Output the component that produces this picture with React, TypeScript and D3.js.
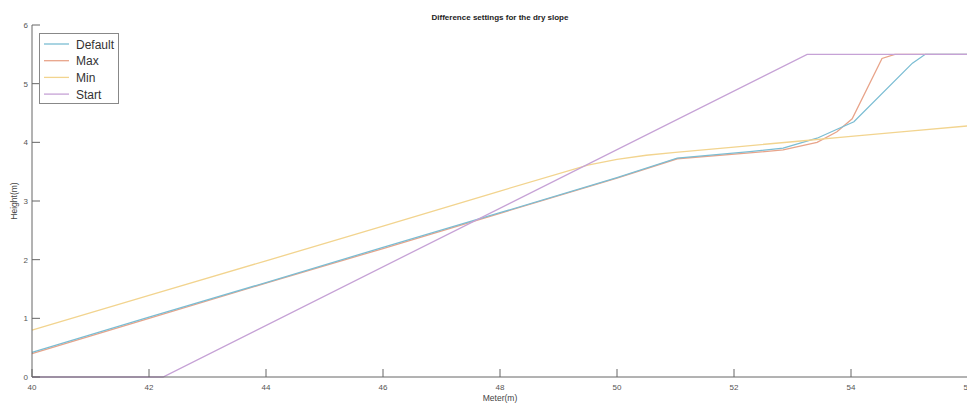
import React from "react";
import * as d3 from "d3";

const seriesNames = ["Default", "Max", "Min", "Start"];
const seriesColors = ["#7bbdd3", "#e8a48a", "#f2d48f", "#c6a2d6"];

const defaultX = [40, 42, 44, 46, 48, 50, 51.03, 52.27, 52.84, 53.42, 53.8, 54.05, 55.05, 55.27, 56];
const defaultY = [0.42, 1.02, 1.61, 2.21, 2.8, 3.4, 3.73, 3.84, 3.9, 4.07, 4.24, 4.35, 5.35, 5.5, 5.5];

const maxX = [40, 42, 44, 46, 48, 50, 51.03, 52.27, 52.84, 53.42, 53.76, 54.02, 54.53, 54.75, 56];
const maxY = [0.4, 1.0, 1.6, 2.19, 2.79, 3.39, 3.72, 3.82, 3.87, 4.0, 4.18, 4.4, 5.43, 5.5, 5.5];

const minX = [40, 42, 44, 46, 48, 49.5, 50, 50.5, 51, 52, 53, 54, 55, 56];
const minY = [0.8, 1.39, 1.98, 2.57, 3.17, 3.61, 3.71, 3.78, 3.83, 3.92, 4.01, 4.1, 4.19, 4.28];

const startX = [40, 42.24, 53.25, 56];
const startY = [0, 0, 5.5, 5.5];

const xTicks = [40, 42, 44, 46, 48, 50, 52, 54, 56];
const yTicks = [0, 1, 2, 3, 4, 5, 6];

const W = 967;
const H = 403;

export default function App() {
  const x = d3.scaleLinear().domain([40, 56]).range([32, 968]);
  const y = d3.scaleLinear().domain([0, 6]).range([377, 25]);

  const series = [
    { name: seriesNames[0], xs: defaultX, ys: defaultY, color: seriesColors[0] },
    { name: seriesNames[1], xs: maxX, ys: maxY, color: seriesColors[1] },
    { name: seriesNames[2], xs: minX, ys: minY, color: seriesColors[2] },
    { name: seriesNames[3], xs: startX, ys: startY, color: seriesColors[3] },
  ];

  const line = d3
    .line<[number, number]>()
    .x((d) => x(d[0]))
    .y((d) => y(d[1]));

  const axisColor = "#666";
  const font = "Liberation Sans, Arial, sans-serif";

  return (
    <svg
      width={W}
      height={H}
      style={{ position: "fixed", left: 0, top: 0, background: "#fff" }}
      fontFamily={font}
    >
      <rect x={0} y={0} width={W} height={H} fill="#fff" />
      <text x={500} y={20} textAnchor="middle" fontSize={8} fontWeight="bold" fill="#222">
        Difference settings for the dry slope
      </text>

      {/* lines */}
      {[1, 0, 2, 3].map((i) => {
        const s = series[i];
        const pts = s.xs.map((v, k) => [v, s.ys[k]] as [number, number]);
        return (
          <path key={s.name} d={line(pts) || ""} fill="none" stroke={s.color} strokeWidth={1.3} />
        );
      })}

      {/* axes */}
      <line x1={32} y1={377} x2={968} y2={377} stroke={axisColor} strokeWidth={1} />
      <line x1={32} y1={25} x2={32} y2={377} stroke={axisColor} strokeWidth={1} />
      {xTicks.map((t) => (
        <g key={"x" + t}>
          <line x1={x(t)} x2={x(t)} y1={377} y2={369} stroke={axisColor} />
          <text x={x(t)} y={390} textAnchor="middle" fontSize={8} fill="#555">
            {t}
          </text>
        </g>
      ))}
      {yTicks.map((t) => (
        <g key={"y" + t}>
          <line x1={32} x2={40} y1={y(t)} y2={y(t)} stroke={axisColor} />
          <text x={28} y={y(t) + 3} textAnchor="end" fontSize={8} fill="#555">
            {t}
          </text>
        </g>
      ))}
      <text x={500} y={401} textAnchor="middle" fontSize={8.5} fill="#444">
        Meter(m)
      </text>
      <text
        transform={`translate(17,201) rotate(-90)`}
        textAnchor="middle"
        fontSize={8.5}
        fill="#444"
      >
        Height(m)
      </text>

      {/* legend */}
      <rect x={39.5} y={33.5} width={79} height={70} fill="#fff" stroke="#888" strokeWidth={1} />
      {series.map((s, i) => (
        <g key={"lg" + s.name}>
          <line x1={44} x2={69} y1={44 + i * 16.7} y2={44 + i * 16.7} stroke={s.color} strokeWidth={1.3} />
          <text x={76} y={48.5 + i * 16.7} fontSize={12} fill="#333">
            {s.name}
          </text>
        </g>
      ))}
    </svg>
  );
}
